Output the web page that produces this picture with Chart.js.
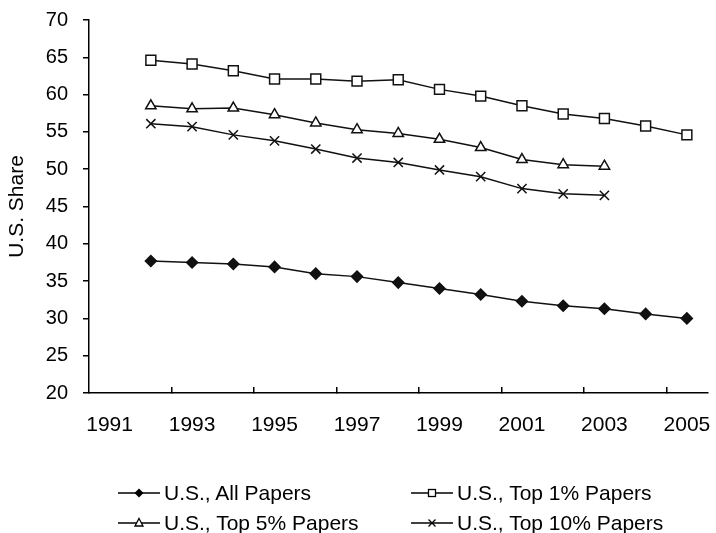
<!DOCTYPE html>
<html lang="en">
<head>
<meta charset="UTF-8">
<style>
  body { margin: 0; background: #fff; }
  .wrap { position: relative; width: 716px; height: 533px; font-family: "Liberation Sans", Arial, sans-serif; color: #000; }
  .leg { position: absolute; display: flex; align-items: center; height: 26px; font-size: 21px; line-height: 26px; white-space: nowrap; }
  .leg svg { margin-right: 4px; }
</style>
</head>
<body>
<div class="wrap">
  <canvas id="chart" width="716" height="533"></canvas>
  <div class="leg" style="left:118px; top:480px;">
    <svg width="42" height="16"><line x1="0" y1="8" x2="42" y2="8" stroke="#000" stroke-width="1.5"/><path d="M21 3.5 L25.5 8 L21 12.5 L16.5 8 Z" fill="#000"/></svg>U.S., All Papers
  </div>
  <div class="leg" style="left:411px; top:480px;">
    <svg width="42" height="16"><line x1="0" y1="8" x2="42" y2="8" stroke="#000" stroke-width="1.5"/><rect x="17.5" y="4.5" width="7" height="7" fill="#fff" stroke="#000" stroke-width="1.3"/></svg>U.S., Top 1% Papers
  </div>
  <div class="leg" style="left:118px; top:510px;">
    <svg width="42" height="16"><line x1="0" y1="8" x2="42" y2="8" stroke="#000" stroke-width="1.5"/><path d="M21 3.5 L25 11 L17 11 Z" fill="#fff" stroke="#000" stroke-width="1.3"/></svg>U.S., Top 5% Papers
  </div>
  <div class="leg" style="left:411px; top:510px;">
    <svg width="42" height="16"><line x1="0" y1="8" x2="42" y2="8" stroke="#000" stroke-width="1.5"/><path d="M17.5 4.5 L24.5 11.5 M24.5 4.5 L17.5 11.5" stroke="#000" stroke-width="1.3"/></svg>U.S., Top 10% Papers
  </div>
</div>

<script src="https://cdn.jsdelivr.net/npm/chart.js"></script>
<script>
  // anos (1991 fica vazio, os dados começam em 1992)
  const years = ['1991', '1992', '1993', '1994', '1995', '1996', '1997', '1998',
                 '1999', '2000', '2001', '2002', '2003', '2004', '2005'];

  const allPapers   = [null, 37.7, 37.5, 37.3, 36.9, 36.0, 35.6, 34.8, 34.0, 33.2, 32.3, 31.7, 31.3, 30.6, 30.0];
  const top1Papers  = [null, 64.6, 64.1, 63.2, 62.1, 62.1, 61.8, 62.0, 60.7, 59.8, 58.5, 57.4, 56.8, 55.8, 54.6];
  const top5Papers  = [null, 58.5, 58.1, 58.2, 57.3, 56.2, 55.3, 54.8, 54.0, 52.9, 51.3, 50.6, 50.4];
  const top10Papers = [null, 56.1, 55.7, 54.6, 53.8, 52.7, 51.5, 50.9, 49.9, 49.0, 47.4, 46.7, 46.5];

  const seriesNames = ['U.S., All Papers', 'U.S., Top 1% Papers', 'U.S., Top 5% Papers', 'U.S., Top 10% Papers'];
  const yTicks = { min: 20, max: 70, step: 5 };

  const ink = '#000';
  const fontFamily = '"Liberation Sans", Arial, sans-serif';

  const lineBase = { borderColor: '#111', borderWidth: 1.5, tension: 0, pointBorderColor: '#111', pointBorderWidth: 1.5 };

  const ctx = document.getElementById('chart');

  new Chart(ctx, {
    type: 'line',
    data: {
      labels: years,
      datasets: [
        { ...lineBase, label: seriesNames[0], data: allPapers,
          pointStyle: 'rectRot', pointRadius: 5.5, pointBackgroundColor: '#111' },
        { ...lineBase, label: seriesNames[1], data: top1Papers,
          pointStyle: 'rect', pointRadius: 7, pointBackgroundColor: '#fff' },
        { ...lineBase, label: seriesNames[2], data: top5Papers,
          pointStyle: 'triangle', pointRadius: 6, pointBackgroundColor: '#fff' },
        { ...lineBase, label: seriesNames[3], data: top10Papers,
          pointStyle: 'crossRot', pointRadius: 6.5, pointBackgroundColor: '#fff' }
      ]
    },
    options: {
      responsive: false,
      animation: false,
      layout: { padding: { left: 0, top: 20, right: 6, bottom: 100 } },
      plugins: {
        legend: { display: false },
        tooltip: { enabled: false }
      },
      scales: {
        x: {
          type: 'category',
          offset: true,
          border: { color: ink, width: 1.5 },
          grid: {
            offset: true,
            drawOnChartArea: false,
            tickLength: -6,
            lineWidth: 1.5,
            color: c => (c.index > 0 && c.index < years.length && c.index % 2 === 0) ? ink : 'rgba(0,0,0,0)'
          },
          ticks: {
            autoSkip: false,
            maxRotation: 0,
            padding: 26,
            color: ink,
            font: { family: fontFamily, size: 21 },
            callback: (v, i) => i % 2 === 0 ? years[i] : ''
          },
          // os rótulos cabem dentro da área, sem folga extra nas pontas
          afterFit: s => { s.height = 40; s.paddingLeft = 0; s.paddingRight = 0; }
        },
        y: {
          min: yTicks.min,
          max: yTicks.max,
          border: { color: ink, width: 1.5 },
          grid: { drawOnChartArea: false, tickLength: 6, color: ink, lineWidth: 1.5 },
          ticks: {
            stepSize: yTicks.step,
            padding: 15,
            color: ink,
            font: { family: fontFamily, size: 20 }
          },
          title: {
            display: true,
            text: 'U.S. Share',
            color: ink,
            padding: { top: 5, bottom: 0 },
            font: { family: fontFamily, size: 21 }
          },
          afterFit: s => { s.width = 89; s.paddingTop = 0; s.paddingBottom = 0; }
        }
      }
    }
  });
</script>
</body>
</html>
